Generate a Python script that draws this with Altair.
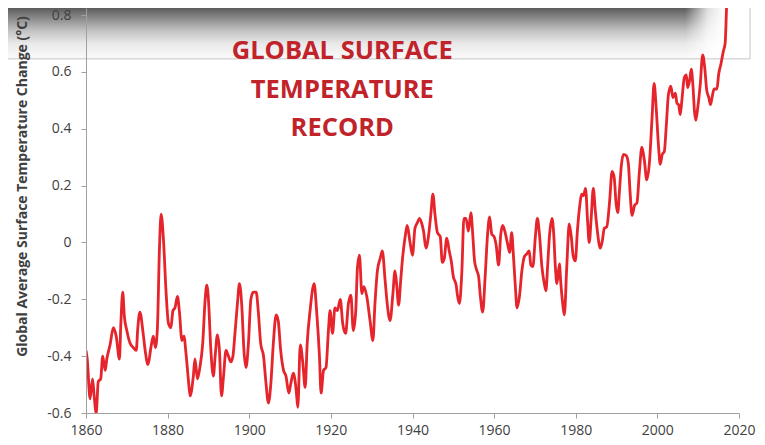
import altair as alt
import pandas as pd

# ---- data ----
years = [
    1860.0, 1860.3, 1861.0, 1861.6, 1862.0, 1862.5, 1863.0, 1863.6, 1864.1, 1864.7,
    1865.1, 1865.9, 1866.7, 1867.4, 1868.2, 1868.5, 1869.0, 1869.4, 1870.0, 1870.8,
    1871.6, 1872.3, 1872.7, 1873.2, 1874.0, 1874.5, 1875.2, 1875.9, 1876.5, 1877.0,
    1877.5, 1878.0, 1878.4, 1879.0, 1879.6, 1880.2, 1880.8, 1881.3, 1881.8, 1882.4,
    1882.9, 1883.5, 1884.0, 1884.5, 1885.1, 1885.5, 1886.3, 1886.7, 1887.3, 1887.9,
    1888.6, 1889.2, 1889.6, 1890.0, 1890.6, 1891.2, 1891.7, 1892.2, 1892.7, 1893.2,
    1893.7, 1894.3, 1894.9, 1895.5, 1896.0, 1896.5, 1897.1, 1897.6, 1898.2, 1898.7,
    1899.2, 1899.8, 1900.4, 1901.0, 1901.7, 1902.2, 1902.8, 1903.5, 1904.1, 1904.7,
    1905.3, 1905.9, 1906.6, 1907.1, 1907.7, 1908.4, 1909.0, 1909.7, 1910.2, 1910.8,
    1911.5, 1911.9, 1912.5, 1913.1, 1913.7, 1914.2, 1914.9, 1915.9, 1916.5, 1917.2,
    1917.6, 1918.2, 1918.8, 1919.4, 1919.8, 1920.4, 1921.0, 1921.6, 1922.3, 1922.9,
    1923.6, 1924.3, 1924.9, 1925.5, 1926.1, 1926.5, 1927.0, 1927.6, 1928.1, 1928.8,
    1929.6, 1930.3, 1930.8, 1931.4, 1932.1, 1932.6, 1933.3, 1933.8, 1934.5, 1935.2,
    1935.7, 1936.1, 1936.6, 1937.1, 1937.6, 1938.2, 1938.7, 1939.4, 1940.0, 1940.6,
    1941.2, 1941.7, 1942.3, 1942.7, 1943.3, 1943.9, 1944.5, 1945.0, 1945.5, 1946.1,
    1946.8, 1947.3, 1947.8, 1948.4, 1949.0, 1949.5, 1950.0, 1950.7, 1951.0, 1951.5,
    1952.1, 1952.6, 1953.1, 1953.7, 1954.3, 1954.8, 1955.2, 1955.8, 1956.2, 1956.6,
    1957.2, 1957.8, 1958.4, 1958.9, 1959.4, 1960.0, 1960.5, 1961.1, 1961.6, 1962.1,
    1962.7, 1963.3, 1963.8, 1964.3, 1964.7, 1965.2, 1965.6, 1966.2, 1966.8, 1967.4,
    1968.0, 1968.6, 1969.0, 1969.5, 1970.1, 1970.6, 1971.1, 1971.7, 1972.3, 1972.7,
    1973.1, 1973.6, 1974.2, 1974.6, 1975.0, 1975.4, 1976.0, 1976.3, 1976.8, 1977.2,
    1977.8, 1978.4, 1978.9, 1979.4, 1979.9, 1980.4, 1980.9, 1981.5, 1981.9, 1982.4,
    1982.9, 1983.3, 1983.8, 1984.3, 1984.8, 1985.3, 1986.0, 1986.5, 1987.0, 1987.6,
    1988.3, 1988.9, 1989.4, 1989.9, 1990.3, 1990.7, 1991.2, 1991.7, 1992.4, 1992.9,
    1993.3, 1993.8, 1994.4, 1995.0, 1995.6, 1996.2, 1996.8, 1997.4, 1998.1, 1998.7,
    1999.2, 1999.7, 2000.3, 2000.7, 2001.2, 2001.7, 2002.2, 2002.7, 2003.3, 2003.8,
    2004.4, 2004.8, 2005.2, 2005.6, 2006.0, 2006.6, 2007.1, 2007.4, 2007.9, 2008.3,
    2008.7, 2009.1, 2009.4, 2009.9, 2010.5, 2011.1, 2011.6, 2012.1, 2012.6, 2013.0,
    2013.4, 2013.9, 2014.6, 2015.0, 2015.6, 2016.2, 2016.6, 2017.0, 2017.4,
]
anomaly = [
    -0.38, -0.41, -0.55, -0.48, -0.54, -0.60, -0.49, -0.48, -0.40, -0.45,
    -0.41, -0.36, -0.30, -0.33, -0.41, -0.30, -0.175, -0.26, -0.31, -0.355,
    -0.37, -0.38, -0.30, -0.245, -0.32, -0.38, -0.43, -0.37, -0.33, -0.37,
    -0.30, -0.02, 0.10, 0.005, -0.17, -0.285, -0.30, -0.24, -0.23, -0.19,
    -0.245, -0.345, -0.33, -0.39, -0.485, -0.54, -0.47, -0.41, -0.48, -0.44,
    -0.355, -0.20, -0.15, -0.20, -0.38, -0.47, -0.39, -0.325, -0.38, -0.54,
    -0.47, -0.38, -0.40, -0.42, -0.40, -0.32, -0.215, -0.145, -0.23, -0.38,
    -0.44, -0.355, -0.20, -0.175, -0.175, -0.24, -0.355, -0.40, -0.495, -0.565,
    -0.495, -0.355, -0.255, -0.275, -0.38, -0.45, -0.47, -0.53, -0.495, -0.46,
    -0.52, -0.58, -0.36, -0.42, -0.51, -0.355, -0.24, -0.145, -0.24, -0.40,
    -0.53, -0.45, -0.44, -0.31, -0.24, -0.32, -0.23, -0.24, -0.20, -0.285,
    -0.32, -0.215, -0.185, -0.31, -0.24, -0.09, -0.045, -0.18, -0.155, -0.19,
    -0.275, -0.345, -0.215, -0.10, -0.055, -0.03, -0.135, -0.215, -0.275, -0.18,
    -0.10, -0.145, -0.22, -0.135, -0.05, 0.02, 0.06, 0.00, -0.045, 0.05,
    0.07, 0.085, 0.065, 0.04, -0.02, 0.02, 0.10, 0.17, 0.10, 0.035,
    0.02, -0.07, -0.055, 0.015, -0.03, -0.065, -0.12, -0.15, -0.185, -0.215,
    -0.10, 0.085, 0.085, 0.04, 0.105, 0.02, -0.065, -0.10, -0.12, -0.185,
    -0.245, -0.12, 0.03, 0.09, 0.03, 0.02, -0.01, -0.08, 0.025, 0.06,
    0.035, -0.005, -0.035, 0.035, -0.04, -0.155, -0.23, -0.19, -0.10, -0.05,
    -0.04, -0.03, -0.08, -0.085, 0.02, 0.085, 0.03, -0.085, -0.145, -0.17,
    -0.085, 0.03, 0.085, 0.03, -0.085, -0.145, -0.075, -0.135, -0.215, -0.255,
    -0.085, 0.065, 0.02, -0.05, -0.065, 0.04, 0.12, 0.17, 0.165, 0.19,
    0.075, 0.00, 0.09, 0.19, 0.11, 0.04, -0.02, 0.005, 0.05, 0.055,
    0.145, 0.25, 0.23, 0.135, 0.105, 0.18, 0.275, 0.31, 0.305, 0.275,
    0.18, 0.095, 0.13, 0.14, 0.25, 0.335, 0.29, 0.22, 0.29, 0.44,
    0.56, 0.475, 0.335, 0.275, 0.31, 0.32, 0.415, 0.52, 0.55, 0.51,
    0.525, 0.49, 0.485, 0.45, 0.50, 0.58, 0.59, 0.545, 0.57, 0.61,
    0.555, 0.46, 0.43, 0.475, 0.555, 0.66, 0.615, 0.535, 0.51, 0.485,
    0.51, 0.54, 0.54, 0.59, 0.63, 0.675, 0.70, 0.85, 1.0,
]

y_ticks = [-0.6, -0.4, -0.2, 0.0, 0.2, 0.4, 0.6, 0.8]
x_ticks = [1860, 1880, 1900, 1920, 1940, 1960, 1980, 2000, 2020]

title_lines = ["GLOBAL SURFACE", "TEMPERATURE", "RECORD"]
title_x = [1922.8, 1922.8, 1922.8]
title_y = [0.646, 0.508, 0.374]

# overlay band (screen-capture artifact at the top of the reference)
band = pd.DataFrame({"yr": [1838.9], "yr2": [2022.7], "val": [0.646], "val2": [0.83]})
fade = pd.DataFrame({"yr": [2006.8], "yr2": [2022.7], "val": [0.646], "val2": [0.83]})

X_DOMAIN = [1860, 2020]
Y_DOMAIN = [-0.6, 0.825]
Y_TITLE = "Global Average Surface Temperature Change (°C)"

x_axis = alt.Axis(
    values=x_ticks, format="d", title=None, grid=False,
    domainColor="#a0a0a0", tickColor="#a0a0a0", tickSize=5,
    labelColor="#404040", labelFont="Open Sans", labelFontSize=14, labelPadding=5,
    labelFlush=False,
)
y_axis = alt.Axis(
    values=y_ticks, title=Y_TITLE, grid=False, zindex=1,
    labelExpr="abs(datum.value) < 1e-9 ? '0' : (datum.value < 0 ? '-' : '') + format(abs(datum.value), '.1f')",
    domainColor="#a0a0a0", tickColor="#a0a0a0", tickSize=5,
    labelColor="#404040", labelFont="Open Sans", labelFontSize=14, labelPadding=10,
    titleFont="Open Sans", titleFontSize=14, titleFontWeight="bold", titleColor="#404040",
    titleX=-60, titleY=178, titleBaseline="alphabetic", titleAngle=270,
)

xs = alt.Scale(domain=X_DOMAIN, nice=False, zero=False)
ys = alt.Scale(domain=Y_DOMAIN, nice=False, zero=False)

df = pd.DataFrame({"yr": years, "val": anomaly})
tdf = pd.DataFrame({"yr": title_x, "val": title_y, "label": title_lines})

band_layer = alt.Chart(band).mark_rect(
    clip=False,
    color=alt.LinearGradient(
        gradient="linear", x1=0, x2=0, y1=0, y2=1,
        stops=[
            alt.GradientStop(color="#555555", offset=0),
            alt.GradientStop(color="#858585", offset=0.2),
            alt.GradientStop(color="#c0c0c0", offset=0.45),
            alt.GradientStop(color="#e8e8e8", offset=0.7),
            alt.GradientStop(color="#fbfbfb", offset=1),
        ],
    ),
).encode(
    x=alt.X("yr:Q", scale=xs, axis=x_axis), x2="yr2:Q",
    y=alt.Y("val:Q", scale=ys, axis=y_axis), y2="val2:Q",
)

fade_layer = alt.Chart(fade).mark_rect(
    clip=False,
    color=alt.LinearGradient(
        gradient="linear", x1=0, x2=1, y1=0, y2=0,
        stops=[
            alt.GradientStop(color="rgba(255,255,255,0)", offset=0),
            alt.GradientStop(color="rgba(255,255,255,0.8)", offset=0.35),
            alt.GradientStop(color="rgba(255,255,255,1)", offset=0.6),
            alt.GradientStop(color="rgba(255,255,255,1)", offset=1),
        ],
    ),
).encode(
    x=alt.X("yr:Q", scale=xs, axis=x_axis), x2="yr2:Q",
    y=alt.Y("val:Q", scale=ys, axis=y_axis), y2="val2:Q",
)

border_layer = alt.Chart(band).mark_rect(
    clip=False, fillOpacity=0, stroke="#c4c4c4", strokeWidth=1,
).encode(
    x=alt.X("yr:Q", scale=xs, axis=x_axis), x2="yr2:Q",
    y=alt.Y("val:Q", scale=ys, axis=y_axis), y2="val2:Q",
)

line_layer = alt.Chart(df).mark_line(
    color="#e5242b", strokeWidth=2.8, interpolate="monotone", clip=True,
).encode(
    x=alt.X("yr:Q", scale=xs, axis=x_axis),
    y=alt.Y("val:Q", scale=ys, axis=y_axis),
)

text_layer = alt.Chart(tdf).mark_text(
    font="Open Sans", fontSize=25.5, fontWeight="bold", color="#c1232b",
    align="center", baseline="alphabetic",
).encode(
    x=alt.X("yr:Q", scale=xs, axis=x_axis),
    y=alt.Y("val:Q", scale=ys, axis=y_axis),
    text="label:N",
)

chart = alt.layer(band_layer, fade_layer, border_layer, line_layer, text_layer).properties(
    width=653, height=405,
    autosize=alt.AutoSizeParams(type="none"),
    padding={"left": 78, "top": 0, "right": 18, "bottom": 24},
    background="white",
).configure_view(stroke=None)

chart.save("out.html", embed_options={"renderer": "svg", "actions": False})
